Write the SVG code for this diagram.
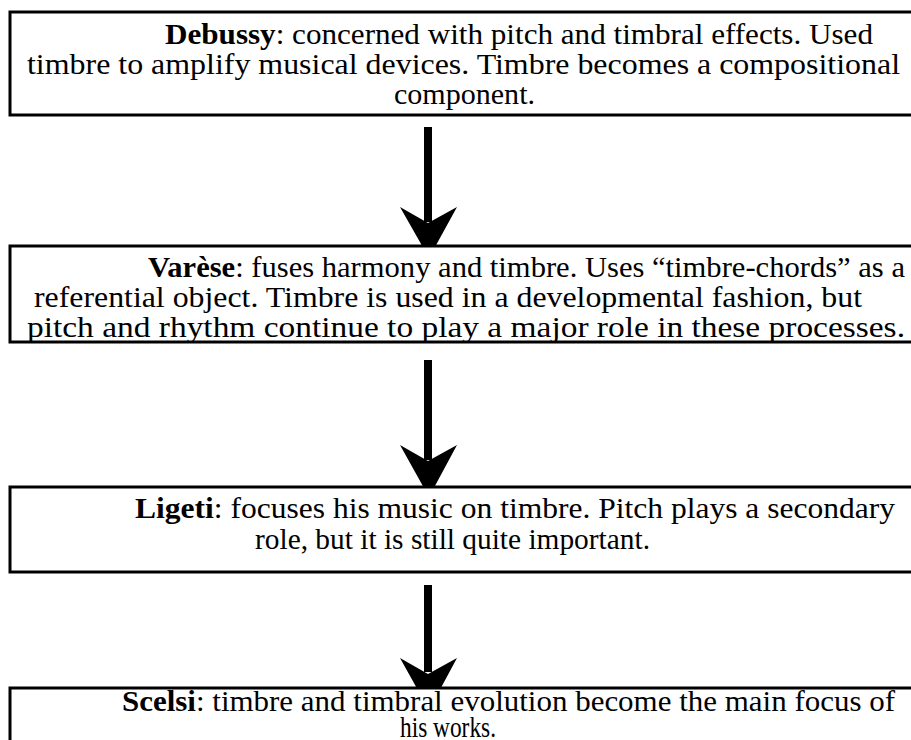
<svg xmlns="http://www.w3.org/2000/svg" width="911" height="740" viewBox="0 0 911 740">
<style>
.box{fill:#fff;stroke:#000;stroke-width:3}
.t{font-family:'Liberation Serif',Tinos,'Times New Roman',serif;font-size:29px;fill:#000}
.b{font-weight:bold}
.shaft{stroke:#000;stroke-width:8}
.head{fill:#000}
</style>
<rect width="911" height="740" fill="#fff"/>
<g id="connectors">
<line class="shaft" x1="428" y1="127" x2="428" y2="222"/>
<polygon class="head" points="400,207 428,223 457,207 429,258"/>
<line class="shaft" x1="428" y1="360" x2="428" y2="460"/>
<polygon class="head" points="400,445 428,461 457,445 429,497"/>
<line class="shaft" x1="428" y1="585" x2="428" y2="672"/>
<polygon class="head" points="400,658 428,674 457,658 429,710"/>
</g>
<g id="debussy">
<rect class="box" x="10" y="12" width="920" height="103"/>
<text class="t" x="165" y="44" textLength="708" lengthAdjust="spacingAndGlyphs"><tspan class="b">Debussy</tspan>: concerned with pitch and timbral effects.  Used</text>
<text class="t" x="27" y="74" textLength="873" lengthAdjust="spacingAndGlyphs">timbre to amplify musical devices.  Timbre becomes a compositional</text>
<text class="t" x="394" y="104" textLength="141" lengthAdjust="spacingAndGlyphs">component.</text>
</g>
<g id="varese">
<rect class="box" x="10" y="246" width="920" height="96"/>
<text class="t" x="148" y="277" textLength="757" lengthAdjust="spacingAndGlyphs"><tspan class="b">Varèse</tspan>: fuses harmony and timbre.  Uses “timbre-chords” as a</text>
<text class="t" x="34" y="307" textLength="828" lengthAdjust="spacingAndGlyphs">referential object.  Timbre is used in a developmental fashion, but</text>
<text class="t" x="27" y="337" textLength="878" lengthAdjust="spacingAndGlyphs">pitch and rhythm continue to play a major role in these processes.</text>
</g>
<g id="ligeti">
<rect class="box" x="10" y="487" width="920" height="85"/>
<text class="t" x="135" y="518" textLength="760" lengthAdjust="spacingAndGlyphs"><tspan class="b">Ligeti</tspan>: focuses his music on timbre.  Pitch plays a secondary</text>
<text class="t" x="255" y="549" textLength="395" lengthAdjust="spacingAndGlyphs">role, but it is still quite important.</text>
</g>
<g id="scelsi">
<rect class="box" x="10" y="688" width="920" height="80"/>
<text class="t" x="122" y="711" font-size="27" textLength="773" lengthAdjust="spacingAndGlyphs"><tspan class="b">Scelsi</tspan>: timbre and timbral evolution become the main focus of</text>
<text class="t" x="400" y="737" font-size="26" textLength="96" lengthAdjust="spacingAndGlyphs">his works.</text>
</g>
</svg>
